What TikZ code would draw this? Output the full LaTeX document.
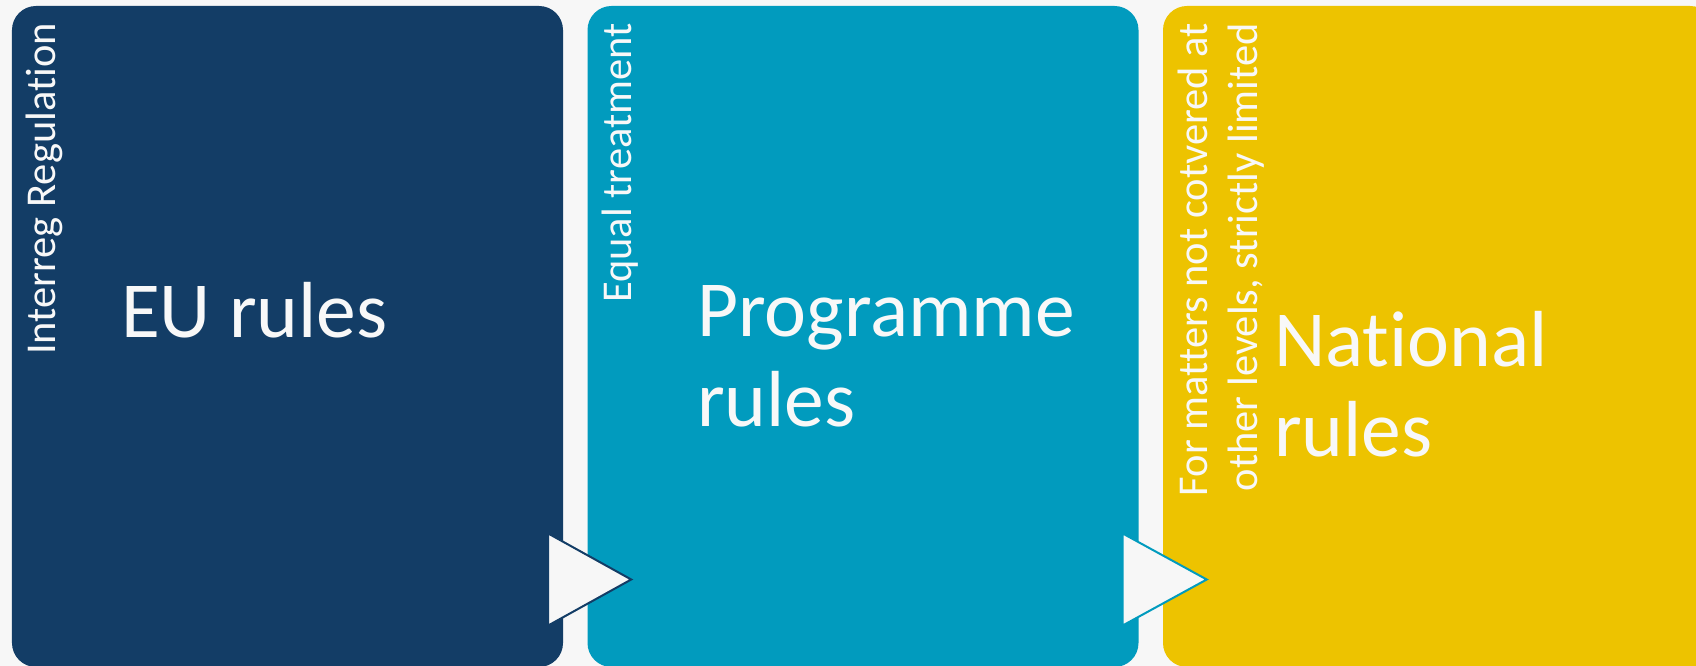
\documentclass[tikz,border=0pt]{standalone}
\usepackage{fontspec}
\setmainfont{Carlito}[Ligatures={NoCommon,NoContextual}]
\usetikzlibrary{calc}
\definecolor{bg}{HTML}{F7F7F7}
\definecolor{cdark}{HTML}{133D66}
\definecolor{clight}{HTML}{019BBE}
\definecolor{cyellow}{HTML}{EDC300}
\definecolor{txt}{HTML}{F8F8F8}
\tikzset{
  panel/.style={draw=none, rounded corners=24bp, inner sep=0pt,
    minimum width=551bp, minimum height=661bp},
  title/.style={text=txt, inner sep=0pt, anchor=base west, align=left,
    font=\fontsize{79.5bp}{90bp}\selectfont},
  side/.style={text=txt, inner sep=0pt, rotate=90, anchor=base east, align=right,
    font=\fontsize{42.5bp}{50bp}\selectfont},
  pointer/.style={fill=bg, line width=2bp, line join=miter}
}
\begin{document}
\begin{tikzpicture}[x=1bp,y=1bp]
\useasboundingbox (0,0) rectangle (1696,666);
\fill[bg] (0,0) rectangle (1696,666);
\clip (0,0) rectangle (1696,666);
\node[panel, fill=cdark]   (b1) at (287.5,329.5) {};
\node[panel, fill=clight]  (b2) at (863,329.5) {};
\node[panel, fill=cyellow] (b3) at (1438.5,329.5) {};
% pointers
\draw[pointer, draw=cdark] ($(b1.east)+(-15,-197)$) -- ($(b1.east)+(68,-243)$) -- ($(b1.east)+(-15,-289)$) -- cycle;
\draw[pointer, draw=clight] ($(b2.east)+(-16,-197)$) -- ($(b2.east)+(68,-243)$) -- ($(b2.east)+(-16,-289)$) -- cycle;
% texts (base = last line)
\node[title] (t1) at (121,328) {EU rules};
\node[title] (t2) at (697,239) {Programme\\rules};
\node[title] (t3) at (1274,209) {National\\rules};
\node[side] (s1) at (55,643) {Interreg Regulation};
\node[side] (s2) at (631,643) {Equal treatment};
\node[side] (s3) at (1257,643) {For matters not cotvered at\\other levels, strictly limited};
\end{tikzpicture}
\end{document}
